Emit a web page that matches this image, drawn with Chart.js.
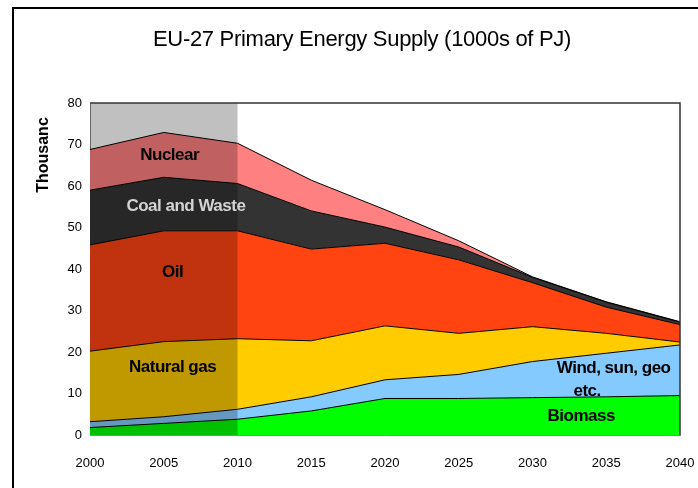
<!DOCTYPE html>
<html>
<head>
<meta charset="utf-8">
<script src="https://cdn.jsdelivr.net/npm/chart.js@4"></script>
<style>
  html, body { margin: 0; padding: 0; background: #fff; }
  #frame { position: absolute; left: 12px; top: 7px; width: 800px; height: 600px; border: 2px solid #000; }
  #wrap { position: absolute; left: 0; top: 0; width: 698px; height: 488px; }
</style>
</head>
<body>
<div id="frame"></div>
<div id="wrap"><canvas id="chart" width="698" height="488"></canvas></div>
<script>
// data (1000s of PJ)
const years = ['2000', '2005', '2010', '2015', '2020', '2025', '2030', '2035', '2040'];
const biomass = [1.8, 2.8, 3.8, 5.8, 8.8, 8.8, 9.0, 9.2, 9.5];
const wind    = [1.4, 1.6, 2.4, 3.4, 4.5, 5.8, 8.7, 10.5, 12.2];
const gas     = [17.0, 18.1, 17.0, 13.5, 13.0, 9.9, 8.4, 4.8, 0.7];
const oil     = [25.6, 26.7, 26.0, 22.1, 19.9, 17.7, 10.6, 6.3, 4.2];
const coal    = [13.2, 12.9, 11.4, 9.2, 3.9, 3.1, 1.3, 1.2, 0.6];
const nuclear = [9.8, 10.8, 9.7, 7.4, 4.2, 1.5, 0.1, 0.1, 0.1];
const yTicks  = [0, 10, 20, 30, 40, 50, 60, 70, 80];

// shaded "history" span
const histFrom = 2000, histTo = 2010;

// text put inside the areas: [text, year, value, colour]
const areaLabels = [
    ['Nuclear', 2005.4, 67.5, '#000'],
    ['Coal and Waste', 2006.5, 55.2, '#d4d4d4'],
    ['Oil', 2005.6, 39.3, '#000'],
    ['Natural gas', 2005.6, 16.4, '#000'],
    ['Wind, sun, geo', 2035.5, 16.1, '#000'],
    ['etc.', 2033.7, 10.6, '#000'],
    ['Biomass', 2033.3, 4.6, '#000'],
];

const FONT = '"Liberation Sans", Arial, sans-serif';

function yearPx(scale, yr) {
    return scale.getPixelForValue((yr - Number(years[0])) / 5);
}

const decor = {
    id: 'decor',
    afterDatasetsDraw(chart) {
        const ctx = chart.ctx;
        const a = chart.chartArea;
        const x = chart.scales.x, y = chart.scales.y;
        ctx.save();
        // grey shading, darkens what lies under it
        ctx.globalCompositeOperation = 'multiply';
        ctx.fillStyle = '#c0c0c0';
        const x0 = yearPx(x, histFrom), x1 = yearPx(x, histTo);
        ctx.fillRect(x0, a.top, x1 - x0, a.bottom - a.top);
        ctx.globalCompositeOperation = 'source-over';
        // plot border
        ctx.strokeStyle = '#333';
        ctx.lineWidth = 1.5;
        ctx.beginPath();
        ctx.moveTo(a.left, a.top);
        ctx.lineTo(a.right, a.top);
        ctx.lineTo(a.right, a.bottom);
        ctx.stroke();
        // area labels
        ctx.font = 'bold 17px ' + FONT;
        ctx.letterSpacing = '-0.5px';
        ctx.textAlign = 'center';
        ctx.textBaseline = 'middle';
        areaLabels.forEach(([t, yr, v, c]) => {
            ctx.fillStyle = c;
            ctx.fillText(t, yearPx(x, yr), y.getPixelForValue(v));
        });
        ctx.restore();
    },
    afterDraw(chart) {
        const ctx = chart.ctx;
        ctx.save();
        ctx.fillStyle = '#000';
        ctx.textAlign = 'center';
        ctx.textBaseline = 'middle';
        ctx.font = '22px ' + FONT;
        ctx.letterSpacing = '-0.3px';
        ctx.fillText('EU-27 Primary Energy Supply (1000s of PJ)', 362, 40);
        ctx.letterSpacing = '0px';
        ctx.translate(44, 155);
        ctx.rotate(-Math.PI / 2);
        ctx.font = 'bold 16px ' + FONT;
        ctx.fillText('Thousanc', 0, 0);
        ctx.restore();
    }
};

function area(label, data, color, fill) {
    return {
        label: label,
        data: data,
        backgroundColor: color,
        borderColor: '#000',
        borderWidth: 1,
        fill: fill,
        pointRadius: 0,
        tension: 0,
    };
}

new Chart(document.getElementById('chart'), {
    type: 'line',
    data: {
        labels: years,
        datasets: [
            area('Biomass', biomass, '#00ff00', 'origin'),
            area('Wind, sun, geo etc.', wind, '#85caff', '-1'),
            area('Natural gas', gas, '#ffcc00', '-1'),
            area('Oil', oil, '#ff4412', '-1'),
            area('Coal and Waste', coal, '#333333', '-1'),
            area('Nuclear', nuclear, '#ff8080', '-1'),
        ]
    },
    options: {
        responsive: false,
        animation: false,
        layout: { padding: { left: 30, right: 18, top: 103, bottom: 13 } },
        plugins: {
            legend: { display: false },
            tooltip: { enabled: false },
        },
        scales: {
            x: {
                grid: { display: false, drawTicks: true, tickLength: 5, color: '#888' },
                border: { color: '#888' },
                ticks: { color: '#000', font: { family: FONT, size: 13 }, padding: 16, maxRotation: 0 },
                afterFit: s => { s.height = 40; s.paddingLeft = 0; s.paddingRight = 0; },
            },
            y: {
                stacked: true,
                min: 0,
                max: 80,
                afterBuildTicks: s => { s.ticks = yTicks.map(v => ({ value: v })); },
                grid: { display: false, drawTicks: true, tickLength: 5, color: '#888' },
                border: { color: '#888' },
                ticks: { color: '#000', font: { family: FONT, size: 13 }, padding: 3 },
                afterFit: s => { s.width = 60; s.paddingTop = 0; s.paddingBottom = 0; },
            }
        }
    },
    plugins: [decor]
});
</script>
</body>
</html>
